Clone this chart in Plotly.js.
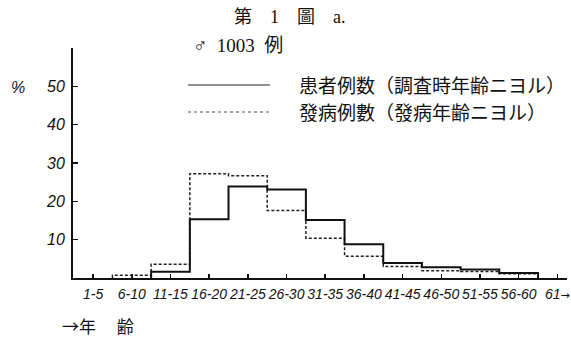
<!DOCTYPE html>
<html>
<head>
<meta charset="utf-8">
<script src="https://cdn.plot.ly/plotly-3.0.1.min.js"></script>
<style>html,body{margin:0;padding:0;background:#fff;}#chart{width:571px;height:341px;}</style>
</head>
<body>
<div id="chart"></div>
<script>
// Age groups (x categories)
const ageGroups = ["1-5","6-10","11-15","16-20","21-25","26-30","31-35","36-40","41-45","46-50","51-55","56-60","61→"];
// 患者例数 (調査時年齢ニヨル), %
const patientsBySurveyAge = [0, 0, 1.6, 15.3, 23.9, 23.1, 15.1, 8.8, 3.9, 2.8, 2.2, 1.3, 0];
// 發病例數 (發病年齢ニヨル), %
const casesByOnsetAge = [0, 0.7, 3.6, 27.2, 26.7, 17.6, 10.4, 5.7, 3.0, 1.9, 1.7, 1.1, 0];
const yTicks = [10, 20, 30, 40, 50];

// Build histogram outline (step) from bin values; bins centred on category index
function stepOutline(vals) {
  let s = vals.findIndex(v => v > 0);
  let e = vals.length - 1;
  while (e > s && !(vals[e] > 0)) e--;
  const xs = [s - 0.5], ys = [0];
  for (let i = s; i <= e; i++) { xs.push(i + 0.5); ys.push(vals[i]); }
  xs.push(e + 0.5); ys.push(0);
  return {x: xs, y: ys};
}

const a = stepOutline(patientsBySurveyAge);
const b = stepOutline(casesByOnsetAge);

const traces = [
  {x: b.x, y: b.y, type: 'scatter', mode: 'lines', line: {shape: 'vh', color: '#222', width: 1.5, dash: '3px,2px'}, hoverinfo: 'skip', showlegend: false},
  {x: a.x, y: a.y, type: 'scatter', mode: 'lines', line: {shape: 'vh', color: '#111', width: 2}, hoverinfo: 'skip', showlegend: false}
];

const serif = '"Liberation Serif", "Noto Sans CJK JP", serif';
const cjk = '"Noto Sans CJK JP", sans-serif';
const tickFont = {family: '"Liberation Sans Narrow", "Liberation Sans", sans-serif', size: 14, color: '#111', style: 'italic'};

const L = 73, R = 4, T = 48, B = 63, W = 571, H = 341;
const pw = W - L - R, ph = H - T - B;
const px = v => (v - L) / pw;
const py = v => (H - B - v) / ph;

const layout = {
  width: W, height: H,
  margin: {l: L, r: R, t: T, b: B, pad: 0},
  paper_bgcolor: '#fff', plot_bgcolor: '#fff',
  showlegend: false,
  xaxis: {
    range: [-0.52, 12.25],
    tickmode: 'array', tickvals: ageGroups.map((_, i) => i),
    ticktext: ageGroups.map(s => s.replace('→', '<span style="font-family:DejaVu Sans;font-size:11px;font-style:normal">→</span>')),
    tickangle: 0,
    ticks: 'inside', ticklen: 4, tickwidth: 1.5, tickcolor: '#111',
    showline: true, linecolor: '#111', linewidth: 2,
    showgrid: false, zeroline: false, tickfont: tickFont, ticklabelstandoff: 2,
    ticklabeloverflow: 'allow'
  },
  yaxis: {
    range: [0, 60],
    tickmode: 'array', tickvals: yTicks, ticktext: yTicks.map(String),
    ticks: 'inside', ticklen: 5, tickwidth: 1.5, tickcolor: '#111',
    showline: true, linecolor: '#111', linewidth: 2,
    showgrid: false, zeroline: false, tickfont: {...tickFont, size: 16}, ticklabelstandoff: 3
  },
  shapes: [
    {type: 'line', xref: 'paper', yref: 'paper', x0: px(188), x1: px(270), y0: py(85), y1: py(85), line: {color: '#222', width: 1.2}},
    {type: 'line', xref: 'paper', yref: 'paper', x0: px(188), x1: px(270), y0: py(112), y1: py(112), line: {color: '#444', width: 1, dash: 'dot'}}
  ],
  annotations: [
    {text: '第　1　圖　a.', xref: 'paper', yref: 'paper', x: px(290), y: py(17), xanchor: 'center', yanchor: 'middle', showarrow: false, font: {family: serif, size: 18, color: '#111'}},
    {text: '♂  1003  例', xref: 'paper', yref: 'paper', x: px(191), y: py(45), xanchor: 'left', yanchor: 'middle', showarrow: false, font: {family: serif, size: 19, color: '#111'}},
    {text: '患者例数（調査時年齢ニヨル）', xref: 'paper', yref: 'paper', x: px(297), y: py(84), xanchor: 'left', yanchor: 'middle', showarrow: false, font: {family: cjk, size: 19, color: '#111'}},
    {text: '發病例數（發病年齢ニヨル）', xref: 'paper', yref: 'paper', x: px(297), y: py(111), xanchor: 'left', yanchor: 'middle', showarrow: false, font: {family: cjk, size: 19, color: '#111'}},
    {text: '%', xref: 'paper', yref: 'paper', x: px(18), y: py(87), xanchor: 'center', yanchor: 'middle', showarrow: false, font: {family: tickFont.family, size: 16, color: '#111', style: 'italic'}},
    {text: '→年　 齢', xref: 'paper', yref: 'paper', x: px(60), y: py(325), xanchor: 'left', yanchor: 'middle', showarrow: false, font: {family: cjk, size: 17, color: '#111'}}
  ]
};

Plotly.newPlot('chart', traces, layout, {staticPlot: true, displayModeBar: false});
</script>
</body>
</html>
